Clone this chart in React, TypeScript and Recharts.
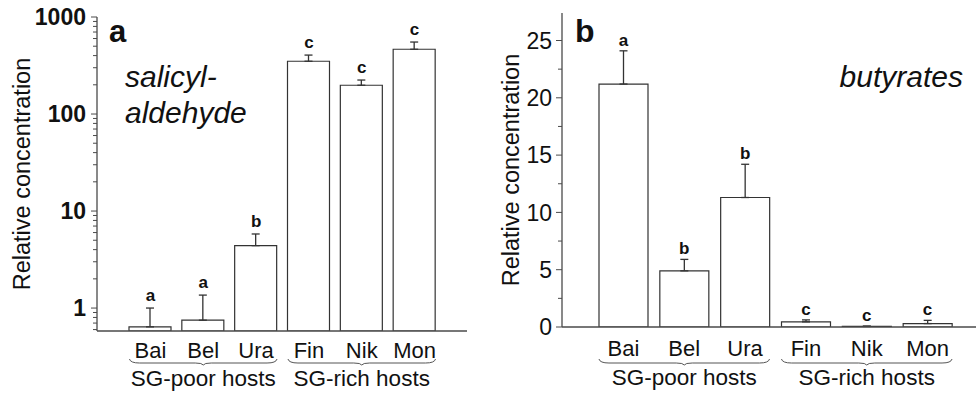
import React from "react";
import {
    ComposedChart,
    Bar,
    Line,
    XAxis,
    YAxis,
    ErrorBar,
    LabelList,
} from "recharts";

// hosts, grouped by salicyl glucoside content
const hosts = ["Bai", "Bel", "Ura", "Fin", "Nik", "Mon"];
const groupNames = ["SG-poor hosts", "SG-rich hosts"];
const groupCentre = [1, 4]; // index of the middle host of each group

// panel a: salicylaldehyde (log axis)
const salMean = [0.64, 0.75, 4.4, 350, 198, 465];
const salUpper = [1.0, 1.36, 5.8, 405, 224, 552];
const salLetters = ["a", "a", "b", "c", "c", "c"];
const salTicks = [0.6, 0.7, 0.8, 0.9, 1, 2, 3, 4, 5, 6, 7, 8, 9, 10, 20, 30, 40, 50, 60, 70, 80, 90, 100, 200, 300, 400, 500, 600, 700, 800, 900, 1000];
const salMajor = [1, 10, 100, 1000];

// panel b: butyrates (linear axis)
const butMean = [21.2, 4.9, 11.3, 0.45, 0.05, 0.3];
const butUpper = [24.1, 5.9, 14.2, 0.62, 0.08, 0.58];
const butLetters = ["a", "b", "b", "c", "c", "c"];
const butTicks = [0, 2.5, 5, 7.5, 10, 12.5, 15, 17.5, 20, 22.5, 25];
const butMajor = [0, 5, 10, 15, 20, 25];

const FONT = '"Liberation Sans", Arial, Helvetica, sans-serif';
const AXIS = "#4a4a4a";
const INK = "#111";

const buildRows = (mean: number[], upper: number[], letters: string[]) =>
    hosts.map((h, i) => ({
        name: h,
        mean: mean[i],
        err: [0, upper[i] - mean[i]],
        top: upper[i],
        letter: letters[i],
    }));

const salData = buildRows(salMean, salUpper, salLetters);
const butData = buildRows(butMean, butUpper, butLetters);

function makeYTick(major: number[], weight: number, gap: number) {
    return (props: any) => {
        const { x, y, payload } = props;
        const isMajor = major.includes(payload.value);
        const len = isMajor ? 6 : 4;
        return (
            <g>
                <line x1={x - len} y1={y} x2={x} y2={y} stroke={AXIS} strokeWidth={1} />
                {isMajor && (
                    <text
                        x={x - gap}
                        y={y}
                        dy="0.36em"
                        textAnchor="end"
                        fontSize={23}
                        fontWeight={weight}
                        fill={INK}
                        fontFamily={FONT}
                    >
                        {payload.value}
                    </text>
                )}
            </g>
        );
    };
}

function makeXTick(band: number, barSize: number, labelDy: number, braceDy: number, groupDy: number) {
    return (props: any) => {
        const { x, y, payload, index } = props;
        const g = groupCentre.indexOf(index);
        const hw = band + barSize / 2;
        const by = y + braceDy;
        const brace = `M${x - hw},${by - 4} Q${x - hw + 1},${by} ${x - hw + 10},${by} L${x - 8},${by} Q${x - 1},${by} ${x},${by + 2} Q${x + 1},${by} ${x + 8},${by} L${x + hw - 10},${by} Q${x + hw - 1},${by} ${x + hw},${by - 4}`;
        return (
            <g>
                <text x={x} y={y + labelDy} textAnchor="middle" fontSize={22} fill={INK} fontFamily={FONT}>
                    {payload.value}
                </text>
                {g >= 0 && (
                    <>
                        <path d={brace} fill="none" stroke="#555" strokeWidth={1} />
                        <text x={x} y={y + groupDy} textAnchor="middle" fontSize={22.5} fill={INK} fontFamily={FONT}>
                            {groupNames[g]}
                        </text>
                    </>
                )}
            </g>
        );
    };
}

const yTitle = (dx: number) => (props: any) => {
    const vb = props.viewBox;
    const cx = vb.x + dx;
    const cy = vb.y + vb.height / 2;
    return (
        <text
            x={cx}
            y={cy}
            transform={`rotate(-90, ${cx}, ${cy})`}
            textAnchor="middle"
            dominantBaseline="central"
            fontSize={23.5}
            fill={INK}
            fontFamily={FONT}
        >
            Relative concentration
        </text>
    );
};

const letterLabel = (lift: number, size: number) => (p: any) => (
    <text
        x={p.x}
        y={p.y - lift}
        textAnchor="middle"
        fontSize={size}
        fontWeight="bold"
        fill={INK}
        fontFamily={FONT}
    >
        {p.value}
    </text>
);

export default function App() {
    return (
        <div
            style={{
                position: "absolute",
                left: 0,
                top: 0,
                width: 976,
                height: 394,
                overflow: "hidden",
                background: "#fff",
                fontFamily: FONT,
            }}
        >
            {/* a: salicylaldehyde */}
            <div style={{ position: "absolute", left: 0, top: 0 }}>
                <ComposedChart width={480} height={394} data={salData} margin={{ top: 17, right: 13, bottom: 0, left: 0 }}>
                    <XAxis
                        dataKey="name"
                        height={63}
                        padding={{ left: 27, right: 26 }}
                        axisLine={{ stroke: AXIS, strokeWidth: 1.3 }}
                        tickLine={false}
                        tickSize={0}
                        tickMargin={0}
                        interval={0}
                        tick={makeXTick(52.8, 42, 27, 32, 55)}
                    />
                    <XAxis xAxisId="top" dataKey="name" orientation="top" height={0} tick={false} tickLine={false} axisLine={{ stroke: AXIS, strokeWidth: 1.3 }} />
                    <YAxis
                        scale="log"
                        domain={[0.58, 1000]}
                        allowDataOverflow
                        ticks={salTicks}
                        interval={0}
                        width={97}
                        axisLine={{ stroke: AXIS, strokeWidth: 1.3 }}
                        tickLine={false}
                        tickSize={0}
                        tickMargin={0}
                        tick={makeYTick(salMajor, 700, 11)}
                        label={{ content: yTitle(22) }}
                    />
                    <YAxis yAxisId="right" orientation="right" width={0} tick={false} tickLine={false} axisLine={{ stroke: AXIS, strokeWidth: 1.3 }} />
                    <Bar dataKey="mean" barSize={42} fill="#fff" stroke="#333" strokeWidth={1.2} isAnimationActive={false}>
                        <ErrorBar dataKey="err" width={4} stroke="#333" strokeWidth={1.3} direction="y" />
                    </Bar>
                    <Line dataKey="top" stroke="none" dot={false} activeDot={false} isAnimationActive={false}>
                        <LabelList dataKey="letter" content={letterLabel(7, 17)} />
                    </Line>
                </ComposedChart>
            </div>

            {/* b: butyrates */}
            <div style={{ position: "absolute", left: 488, top: 0 }}>
                <ComposedChart width={510} height={394} data={butData} margin={{ top: 13, right: 8, bottom: 0, left: 0 }}>
                    <XAxis
                        dataKey="name"
                        height={67}
                        padding={{ left: 31, right: 32 }}
                        axisLine={{ stroke: AXIS, strokeWidth: 1.3 }}
                        tickLine={false}
                        tickSize={0}
                        tickMargin={0}
                        interval={0}
                        tick={makeXTick(60.8, 49, 29, 36, 58)}
                    />
                    <XAxis xAxisId="top" dataKey="name" orientation="top" height={0} tick={false} tickLine={false} axisLine={{ stroke: AXIS, strokeWidth: 1.3 }} />
                    <YAxis
                        domain={[0, 27.4]}
                        allowDataOverflow
                        ticks={butTicks}
                        interval={0}
                        width={74}
                        axisLine={{ stroke: AXIS, strokeWidth: 1.3 }}
                        tickLine={false}
                        tickSize={0}
                        tickMargin={0}
                        tick={makeYTick(butMajor, 400, 10)}
                        label={{ content: yTitle(23) }}
                    />
                    <Bar dataKey="mean" barSize={49} fill="#fff" stroke="#333" strokeWidth={1.2} isAnimationActive={false}>
                        <ErrorBar dataKey="err" width={4} stroke="#333" strokeWidth={1.3} direction="y" />
                    </Bar>
                    <Line dataKey="top" stroke="none" dot={false} activeDot={false} isAnimationActive={false}>
                        <LabelList dataKey="letter" content={letterLabel(5, 17)} />
                    </Line>
                </ComposedChart>
            </div>

            {/* panel letters and compound names */}
            <svg width={976} height={394} style={{ position: "absolute", left: 0, top: 0, pointerEvents: "none" }}>
                <text x={109} y={42} fontSize={31} fontWeight="bold" fill={INK} fontFamily={FONT}>a</text>
                <text x={125} y={87} fontSize={30} fontStyle="italic" fill={INK} fontFamily={FONT}>salicyl-</text>
                <text x={125} y={123} fontSize={30} fontStyle="italic" fill={INK} fontFamily={FONT}>aldehyde</text>
                <text x={575} y={42} fontSize={32} fontWeight="bold" fill={INK} fontFamily={FONT}>b</text>
                <text x={963} y={87} fontSize={30} fontStyle="italic" textAnchor="end" fill={INK} fontFamily={FONT}>butyrates</text>
            </svg>
        </div>
    );
}
